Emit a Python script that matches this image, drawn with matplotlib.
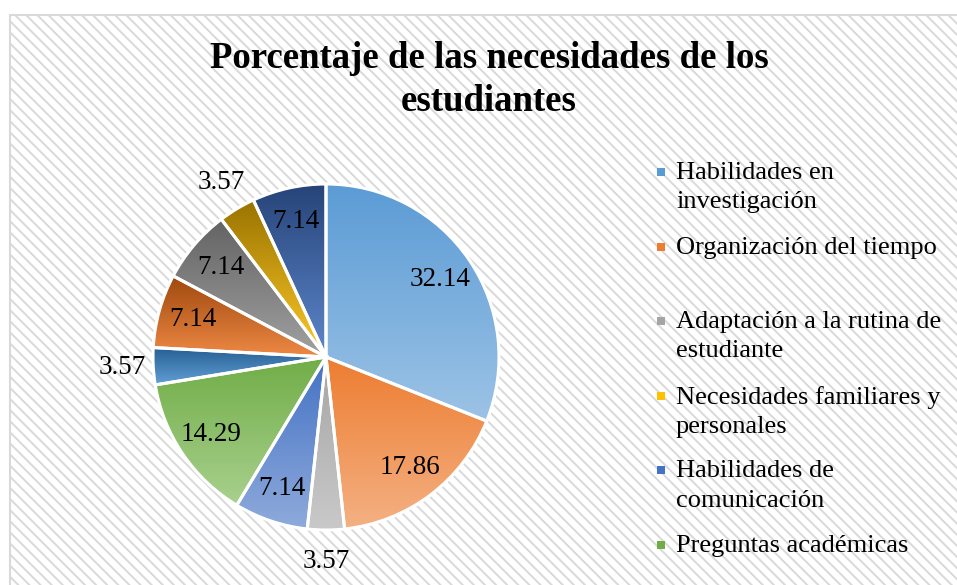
import colorsys
import numpy as np
import matplotlib
matplotlib.use("Agg")
from matplotlib import pyplot as plt
from matplotlib.patches import Rectangle
from matplotlib.colors import to_rgb, LinearSegmentedColormap
#
W,H=957,585
TITLE="Porcentaje de las necesidades de los\nestudiantes"
# slice values, clockwise from 12 o'clock (the yellow one is empty)
values=[32.14,17.86,3.57,0,7.14,14.29,3.57,7.14,7.14,3.57,7.14]
colors=['#5B9BD5','#ED7D31','#A5A5A5','#FFC000','#4472C4','#70AD47',
        '#255E91','#9E480E','#636363','#997300','#264478']
value_labels=['32.14','17.86','3.57','','7.14','14.29','3.57','7.14','7.14','3.57','7.14']
outside=[False,False,True,False,False,False,True,False,False,True,False]
legend_labels=['Habilidades en\ninvestigación','Organización del tiempo',
               'Adaptación a la rutina de\nestudiante','Necesidades familiares y\npersonales',
               'Habilidades de\ncomunicación','Preguntas académicas']
#
plt.rcParams['font.family']=['Liberation Serif','DejaVu Serif']
plt.rcParams['hatch.color']='#e6e6e6'
plt.rcParams['hatch.linewidth']=1.4
#
def px(x,y):
    return x/W,1-y/H
#
def lighter(c,f):
    # raise lightness in HSL, keep hue and saturation
    h,l,s=colorsys.rgb_to_hls(*to_rgb(c))
    return colorsys.hls_to_rgb(h,l+(1-l)*f,s)
#
fig=plt.figure(figsize=(W/100,H/100),dpi=100)
# chart area with diagonal pattern
bg=Rectangle(px(10,600),(W+20)/W,(600-15)/H,transform=fig.transFigure,
             facecolor='white',edgecolor='#d9d9d9',linewidth=1.5,hatch='\\\\\\',zorder=-5)
fig.patches.append(bg)
#
cx,cy,R=326,357,173
half=1.3*R
x0,y0=px(cx-half,cy+half)
ax=fig.add_axes([x0,y0,2*half/W,2*half/H])
ax.set_zorder(2)
ax.axis('off')
ax.patch.set_alpha(0)
#
wedges,_=ax.pie(values,colors=colors,startangle=90,counterclock=False,radius=1,
                wedgeprops=dict(edgecolor='white',linewidth=2.2))
for w,c,v in zip(wedges,colors,values):
    if v==0:
        continue
    verts=w.get_path().vertices
    xmn,ymn=verts.min(axis=0)
    xmx,ymx=verts.max(axis=0)
    cmap=LinearSegmentedColormap.from_list('g',[lighter(c,0.4),to_rgb(c)])
    grad=np.linspace(0,1,256).reshape(-1,1)
    im=ax.imshow(grad,cmap=cmap,extent=(xmn,xmx,ymn,ymx),origin='lower',
                 aspect='auto',zorder=1,interpolation='bilinear')
    im.set_clip_path(w)
    w.set_facecolor('none')
    w.set_zorder(2)
ax.set_xlim(-1.3,1.3)
ax.set_ylim(-1.3,1.3)
#
for w,lab,out in zip(wedges,value_labels,outside):
    if not lab:
        continue
    ang=np.deg2rad((w.theta1+w.theta2)/2)
    r=1.18 if out else 0.8
    ax.text(r*np.cos(ang),r*np.sin(ang),lab,ha='center',va='center',
            fontsize=19.5,color='black',zorder=3)
#
fig.text(*px(489,80),TITLE,ha='center',va='center',fontsize=26.5,
         fontweight='bold',linespacing=1.33)
# legend
for i,lab in enumerate(legend_labels):
    ly=172+i*74.6
    fig.patches.append(Rectangle(px(657,ly+4),8/W,8/H,transform=fig.transFigure,
                                 facecolor=colors[i],edgecolor='none'))
    fig.text(*px(676,ly-10),lab,ha='left',va='top',fontsize=19,linespacing=1.42)
#
fig.savefig('out.png',dpi=100)
